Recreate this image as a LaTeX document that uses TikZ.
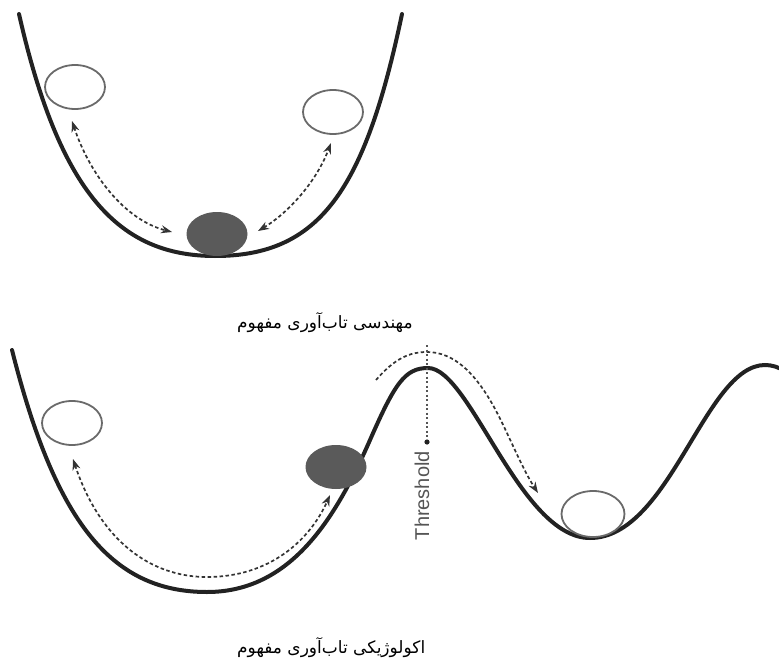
\documentclass[tikz,border=0pt]{standalone}
\usepackage{fontspec}
\setmainfont{Liberation Serif}
\newfontfamily\arabicfont[Script=Arabic]{DejaVu Sans}
\newfontfamily\labelfont{Liberation Sans}
\usetikzlibrary{arrows.meta,shapes.geometric}
\definecolor{curvecol}{HTML}{222222}
\definecolor{ringcol}{HTML}{6A6A6A}
\definecolor{ballcol}{HTML}{5A5A5A}
\definecolor{dashcol}{HTML}{333333}
\definecolor{thrcol}{HTML}{555555}
\tikzset{
  landscape/.style={draw=curvecol, line width=4pt, line cap=round},
  ring/.style={ellipse, draw=ringcol, line width=1.8pt, fill=white, inner sep=0pt, minimum width=60pt, minimum height=44pt},
  ball/.style={ellipse, fill=ballcol, inner sep=0pt, minimum width=61pt, minimum height=44pt},
  movearrow/.style={draw=dashcol, line width=1.7pt, dash pattern=on 3.5pt off 2.5pt},
  caption/.style={font=\arabicfont\fontsize{17}{20}\selectfont, text=black, anchor=west, inner sep=0pt}
}
\begin{document}
\begin{tikzpicture}[x=1pt,y=-1pt]
\useasboundingbox (0,0) rectangle (779,661);
\clip (0,0) rectangle (779,661);

% ---------------- top: engineering resilience ----------------
\draw[landscape] (19,14) .. controls (60,195) and (120,256) .. (215,256)
                          .. controls (320,256) and (365,190) .. (402,14);
\node[ring] (t1) at (75,87) {};
\node[ring] (t2) at (333,112) {};
\node[ball] (t3) at (217,234) {};

\coordinate (ta1) at (72,121);
\coordinate (ta2) at (172,232);
\coordinate (ta3) at (258,231);
\coordinate (ta4) at (331,143);
\draw[movearrow, {Stealth[length=11pt,width=8pt]}-{Stealth[length=11pt,width=8pt]}]
  (ta1) .. controls (90,175) and (125,220) .. (ta2);
\draw[movearrow, {Stealth[length=11pt,width=8pt]}-{Stealth[length=11pt,width=8pt]}]
  (ta3) .. controls (285,215) and (315,185) .. (ta4);

% words set left to right, as the reference prints them
\node[caption] (cap1) at (237,323) {مفهوم تاب‌آوری مهندسی};

% ---------------- bottom: ecological resilience ----------------
\draw[landscape] (12,350) .. controls (55,520) and (110,592) .. (207,592)
  .. controls (290,592) and (335,520) .. (370,440)
  .. controls (395,383) and (405,368) .. (428,368)
  .. controls (470,368) and (520,538) .. (590,538)
  .. controls (670,538) and (705,365) .. (765,365)
  .. controls (772,365) and (778,367) .. (785,371);

\node[ring] (b1) at (72,423) {};
\node[ball] (b2) at (336,467) {};
\node[ring, minimum width=63pt, minimum height=46pt] (b3) at (593,514) {};

\coordinate (ba1) at (73,459);
\coordinate (ba2) at (330,495);
\draw[movearrow, {Stealth[length=11pt,width=8pt]}-{Stealth[length=11pt,width=8pt]}]
  (ba1) .. controls (100,540) and (150,577) .. (207,577)
        .. controls (270,577) and (310,540) .. (ba2);

\coordinate (th0) at (376,380);
\coordinate (th1) at (538,493);
\draw[movearrow, -{Stealth[length=11pt,width=8pt]}]
  (th0) .. controls (395,358) and (410,352) .. (427,352)
        .. controls (455,352) and (475,375) .. (490,400)
        .. controls (505,425) and (520,465) .. (th1);

% threshold marker
\coordinate (thtop) at (427,345);
\coordinate (thdot) at (427,442);
\draw[thrcol, line width=1.6pt, dash pattern=on 2pt off 2.5pt] (thtop) -- (thdot);
\fill[curvecol] (thdot) circle (2.6pt);
\node[rotate=90, anchor=east, inner sep=0pt, text=thrcol, font=\labelfont\fontsize{20}{22}\selectfont] (thlabel) at (422,451) {Threshold};

\node[caption] (cap2) at (237,648) {مفهوم تاب‌آوری اکولوژیکی};
\end{tikzpicture}
\end{document}
